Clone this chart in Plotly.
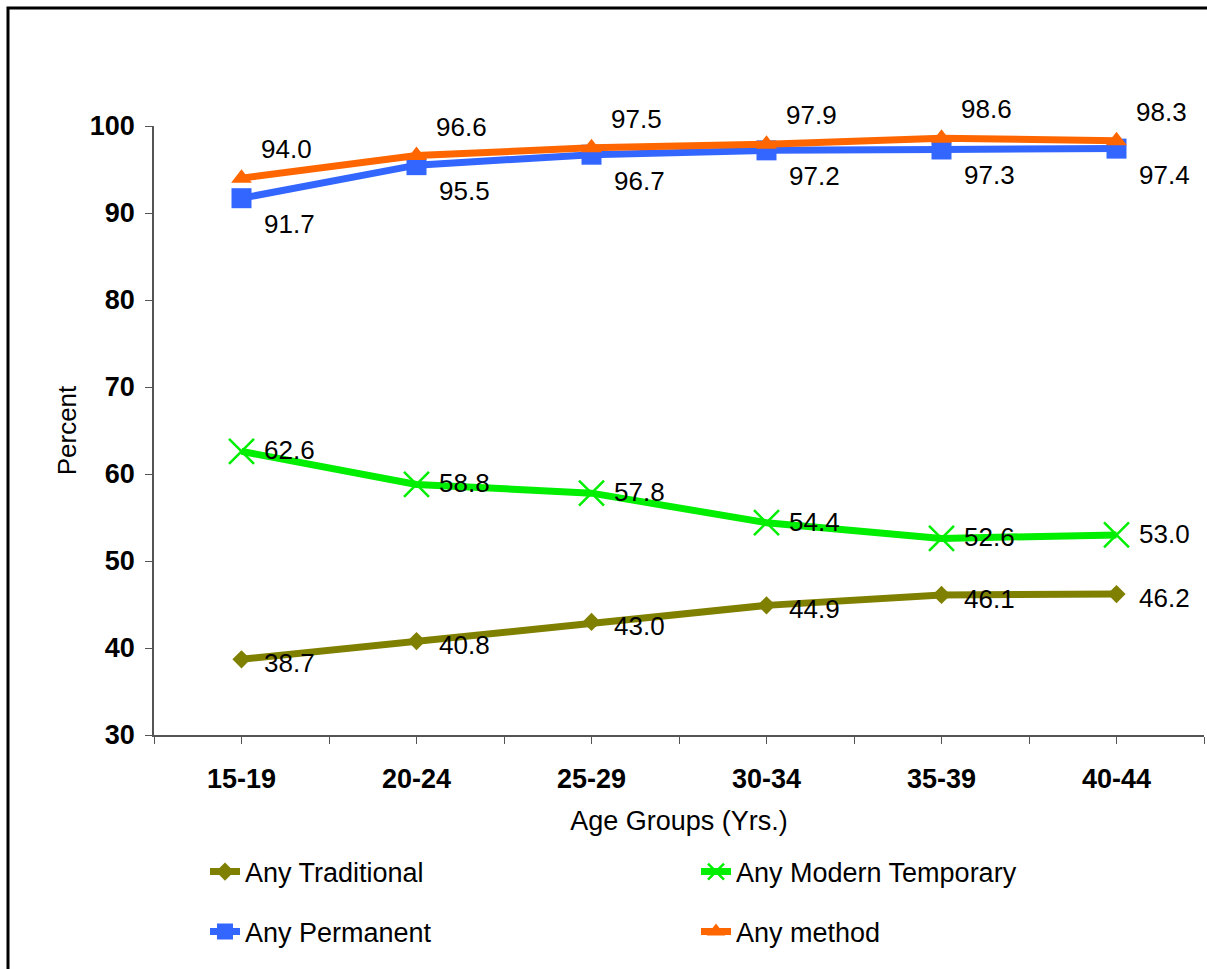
import plotly.graph_objects as go

# ---- data ----
age_groups = ["15-19", "20-24", "25-29", "30-34", "35-39", "40-44"]
any_traditional = [38.7, 40.8, 43.0, 44.9, 46.1, 46.2]
any_modern_temporary = [62.6, 58.8, 57.8, 54.4, 52.6, 53.0]
any_permanent = [91.7, 95.5, 96.7, 97.2, 97.3, 97.4]
any_method = [94.0, 96.6, 97.5, 97.9, 98.6, 98.3]
y_ticks = [30, 40, 50, 60, 70, 80, 90, 100]

FONT = "Liberation Sans, Arial, sans-serif"
W, H = 1207, 969
ML, MT = 154, 126
PR, PB = 1204, 735      # plot right / bottom in page pixels
MR, MB = W - PR, H - PB
PW = W - ML - MR
PH = H - MT - MB

xs = list(range(len(age_groups)))

series = [
    # name, values, color, marker, legend, label shift (x, y)
    ("Any Traditional", any_traditional, "#808000",
     dict(symbol="diamond", size=14), "legend", (20, -4)),
    ("Any Modern Temporary", any_modern_temporary, "#00EE00",
     dict(symbol="x-thin-open", size=25, line=dict(width=2.5, color="#00EE00")), "legend", (20, 1)),
    ("Any Permanent", any_permanent, "#3366FF",
     dict(symbol="square", size=20), "legend2", (20, -26)),
    ("Any method", any_method, "#FF6600",
     dict(symbol="triangle-up", size=18), "legend2", (17, 29)),
]

fig = go.Figure()
annotations = []
for name, vals, color, marker, leg, (dx, dy) in series:
    m = dict(color=color)
    m.update(marker)
    fig.add_trace(go.Scatter(
        x=xs, y=vals, name=name, mode="lines+markers",
        line=dict(color=color, width=7),
        marker=m, legend=leg, cliponaxis=False,
    ))
    for xi, v in zip(xs, vals):
        annotations.append(dict(
            x=xi, y=v, xref="x", yref="y", text=f"{v:.1f}",
            showarrow=False, xanchor="left", yanchor="middle",
            xshift=dx, yshift=dy,
            font=dict(family=FONT, size=26, color="#000000"),
        ))

def px_x(p):
    """page pixel x -> paper coordinate"""
    return (p - ML) / PW

def px_y(p):
    """page pixel y -> paper coordinate"""
    return (PB - p) / PH

legend_common = dict(
    orientation="h", xanchor="left", yanchor="middle",
    entrywidth=446, entrywidthmode="pixels",
    font=dict(family=FONT, size=27, color="#000000"),
    bgcolor="rgba(0,0,0,0)",
)

fig.update_layout(
    width=W, height=H,
    margin=dict(l=ML, r=MR, t=MT, b=MB, autoexpand=False),
    paper_bgcolor="white", plot_bgcolor="white",
    font=dict(family=FONT, color="#000000"),
    annotations=annotations,
    showlegend=True,
    legend=dict(x=px_x(205), y=px_y(872), **legend_common),
    legend2=dict(x=px_x(205), y=px_y(932), **legend_common),
    shapes=[dict(
        type="rect", xref="paper", yref="paper",
        x0=px_x(8), x1=px_x(1240), y0=px_y(1000), y1=px_y(8),
        line=dict(color="#000000", width=3), fillcolor="rgba(0,0,0,0)",
        layer="above",
    )],
)

fig.update_xaxes(
    range=[-0.5, len(age_groups) - 0.5],
    tickmode="array", tickvals=xs, ticktext=age_groups,
    ticks="outside", ticklen=7, tickcolor="#555555", tickwidth=1,
    minor=dict(tickmode="array", tickvals=[i - 0.5 for i in range(len(age_groups) + 1)],
               ticks="outside", ticklen=7, tickcolor="#555555", tickwidth=1),
    showline=True, linecolor="#555555", linewidth=1.5,
    showgrid=False, zeroline=False,
    tickfont=dict(family=FONT, size=27, weight="bold", color="#000000"),
    ticklabelstandoff=12,
    title=dict(text="Age Groups (Yrs.)", font=dict(family=FONT, size=27, color="#000000"), standoff=18),
)
fig.update_yaxes(
    range=[30, 100],
    tickmode="array", tickvals=y_ticks,
    ticks="outside", ticklen=7, tickcolor="#555555", tickwidth=1,
    showline=True, linecolor="#555555", linewidth=1.5,
    showgrid=False, zeroline=False,
    tickfont=dict(family=FONT, size=27, weight="bold", color="#000000"),
    ticklabelstandoff=5,
    title=dict(text="Percent", font=dict(family=FONT, size=26, color="#000000"), standoff=6),
)

# remove the browser's default page margin so the figure fills the window exactly
fig.write_html(
    "out.html",
    config={"displayModeBar": False},
    post_script="document.body.style.margin='0';document.documentElement.style.overflow='hidden';",
)
